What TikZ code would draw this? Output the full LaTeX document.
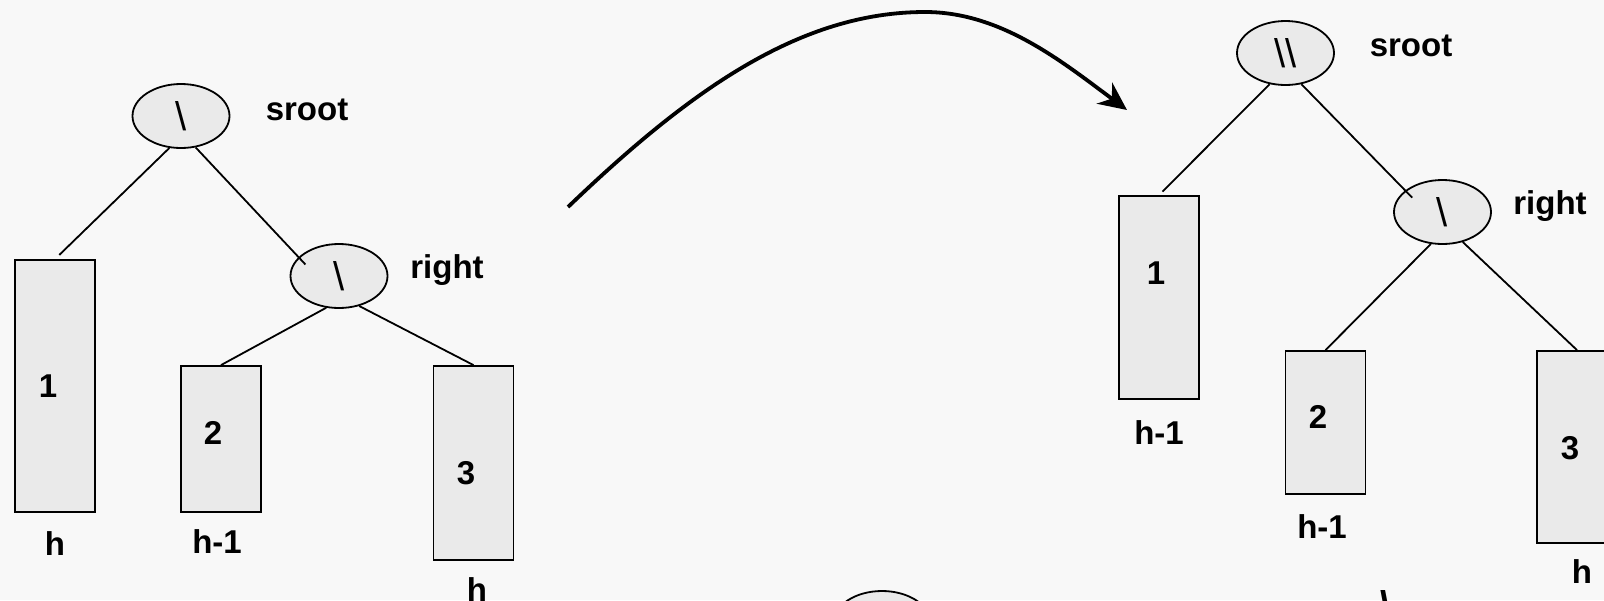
\documentclass[tikz,border=0pt]{standalone}
\usepackage{fontspec}
\setmainfont{Liberation Sans}
\usepackage{tikz}
\usetikzlibrary{arrows.meta, positioning, shapes.geometric}

\definecolor{slidebg}{RGB}{248,248,248}
\definecolor{shapefill}{RGB}{234,234,234}

\begin{document}
\begin{tikzpicture}[
        x=1pt, y=-1pt,
        opnode/.style={ellipse, draw, line width=1.8pt, fill=shapefill,
            minimum width=97pt, minimum height=64pt, inner sep=0pt,
            font=\fontsize{40}{44}\selectfont},
        subtree/.style={rectangle, draw, line width=1.8pt, fill=shapefill,
            minimum width=80pt, inner sep=0pt},
        boldtext/.style={font=\fontsize{33}{36}\selectfont\bfseries, inner sep=0pt},
        edge/.style={line width=1.8pt},
        arrow/.style={-{Stealth[length=28pt, width=26pt, inset=9pt]}, line width=3.8pt},
    ]
    % Slide
    \fill[slidebg] (0,0) rectangle (1604,600);
    \useasboundingbox (0,0) rectangle (1604,600);
    \clip (0,0) rectangle (1604,600);

    % Left tree
    \node[opnode] (lroot) at (181,116) {\textbackslash};
    \node[opnode] (lright) at (339,276) {\textbackslash};
    \node[subtree, minimum height=252pt] (lb1) at (55,386) {};
    \node[subtree, minimum height=146pt] (lb2) at (221,439) {};
    \node[subtree, minimum height=194pt] (lb3) at (473.5,463) {};

    \node[boldtext] (lrootname) at (307,110) {sroot};
    \node[boldtext] (lrightname) at (447,270) {right};
    \node[boldtext] (lnum1) at (48,386) {1};
    \node[boldtext] (lnum2) at (213,433) {2};
    \node[boldtext] (lnum3) at (466,473) {3};
    \node[boldtext] (lh1) at (55,544) {h};
    \node[boldtext] (lh2) at (217,542) {h-1};
    \node[boldtext] (lh3) at (477,590) {h};

    \draw[edge, shorten >=6pt] (lroot.-110) -- (lb1.north);
    \draw[edge, shorten >=-10pt] (lroot.-65) -- (lright.155);
    \draw[edge] (lright.-112) -- (lb2.north);
    \draw[edge] (lright.-56) -- (lb3.north);

    % Rotation arrow
    \coordinate (arrstart) at (568,207);
    \coordinate (arrpeak) at (925,12);
    \coordinate (arrend) at (1127,110);
    \draw[arrow] (arrstart) .. controls (690,90) and (800,12) .. (arrpeak)
        .. controls (1000,12) and (1060,60) .. (arrend);

    % Right tree
    \node[opnode] (rroot) at (1285.5,53) {\textbackslash\textbackslash};
    \node[opnode] (rright) at (1442.5,212) {\textbackslash};
    \node[subtree, minimum height=203pt] (rb1) at (1159,297.5) {};
    \node[subtree, minimum height=143pt] (rb2) at (1325.5,422.5) {};
    \node[subtree, minimum height=192pt] (rb3) at (1577,447) {};

    \node[boldtext] (rrootname) at (1411,46) {sroot};
    \node[boldtext] (rrightname) at (1550,206) {right};
    \node[boldtext] (rnum1) at (1156,273) {1};
    \node[boldtext] (rnum2) at (1318,417) {2};
    \node[boldtext] (rnum3) at (1570,448) {3};
    \node[boldtext] (rh1) at (1159,433) {h-1};
    \node[boldtext] (rh2) at (1322,527) {h-1};
    \node[boldtext] (rh3) at (1582,572) {h};

    \draw[edge, shorten >=5pt] (rroot.-117) -- (rb1.north);
    \draw[edge, shorten >=-10pt] (rroot.-63) -- (rright.150);
    \draw[edge] (rright.-110) -- (rb2.north);
    \draw[edge] (rright.-56) -- (rb3.north);

    % Cut-off shapes at the bottom
    \node[opnode] (lowroot) at (882,623) {};
    \node[boldtext, font=\fontsize{40}{44}\selectfont\bfseries, anchor=north west] (lowmark) at (1380,590) {\textbackslash};
\end{tikzpicture}
\end{document}
